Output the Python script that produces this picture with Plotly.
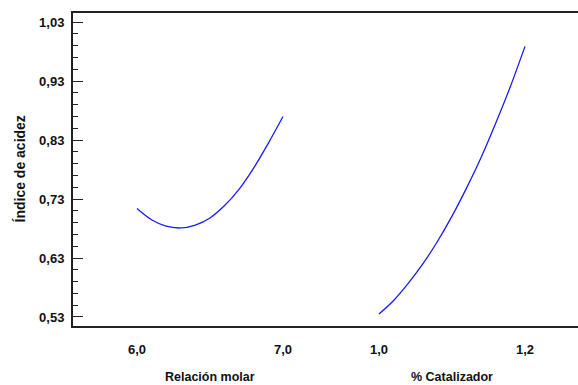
import plotly.graph_objects as go

# Relación molar effect
relacion_x = [6.0, 6.1, 6.2, 6.3, 6.4, 6.5, 6.6, 6.7, 6.8, 6.9, 7.0]
relacion_y = [0.714, 0.695, 0.684, 0.681, 0.686, 0.698, 0.719, 0.747, 0.783, 0.825, 0.870]

# % Catalizador effect
catal_x = [1.00, 1.02, 1.04, 1.06, 1.08, 1.10, 1.12, 1.14, 1.16, 1.18, 1.20]
catal_y = [0.535, 0.558, 0.587, 0.620, 0.658, 0.701, 0.749, 0.801, 0.859, 0.921, 0.989]

y_ticks = [0.53, 0.63, 0.73, 0.83, 0.93, 1.03]
x1_ticks = [6.0, 7.0]
x2_ticks = [1.0, 1.2]

tick_font = dict(family="Liberation Sans, Arial", size=13, color="#111", weight="bold")
title_font = dict(family="Liberation Sans, Arial", size=12.5, color="#111")

fig = go.Figure()
fig.add_trace(go.Scatter(x=relacion_x, y=relacion_y, mode="lines",
                         line=dict(color="#1a1aff", width=1.3, shape="spline"), xaxis="x", yaxis="y",
                         showlegend=False))
fig.add_trace(go.Scatter(x=catal_x, y=catal_y, mode="lines",
                         line=dict(color="#1a1aff", width=1.3, shape="spline"), xaxis="x2", yaxis="y",
                         showlegend=False))

axis_line = dict(showline=True, linecolor="#222", linewidth=2, showgrid=False, zeroline=False)

fig.update_layout(
    width=578, height=385,
    margin=dict(l=73, r=0, t=13, b=59),
    paper_bgcolor="white", plot_bgcolor="white",
    separators=", ",
    xaxis=dict(domain=[0, 0.5], range=[5.562, 7.291], tickvals=x1_ticks, tickformat=".1f",
               ticks="", mirror=True, tickfont=tick_font, ticklabelstandoff=10, **axis_line),
    xaxis2=dict(domain=[0.5, 1], range=[0.9267, 1.2726], tickvals=x2_ticks, tickformat=".1f",
                ticks="", mirror=True, anchor="y", tickfont=tick_font, ticklabelstandoff=10, **axis_line),
    yaxis=dict(range=[0.5147, 1.0456], tickvals=y_ticks, tickformat=".2f",
               ticks="inside", ticklen=10, tickwidth=1.2, tickcolor="#222",
               minor=dict(tick0=0.53, dtick=0.02, ticks="inside", ticklen=5, tickwidth=1.2, tickcolor="#222"),
               tickfont=tick_font, ticklabelstandoff=4, **axis_line),
    annotations=[
        dict(text="<b>Relación molar</b>", xref="x", x=6.5, yref="paper", y=0, yshift=-51,
             showarrow=False, font=title_font, xanchor="center", yanchor="middle"),
        dict(text="<b>% Catalizador</b>", xref="x2", x=1.1, yref="paper", y=0, yshift=-51,
             showarrow=False, font=title_font, xanchor="center", yanchor="middle"),
        dict(text="<b>Índice de acidez</b>", xref="paper", x=0, xshift=-54, yref="paper", y=0.5,
             textangle=-90, showarrow=False, font=dict(family="Liberation Sans, Arial", size=14, color="#111"),
             xanchor="center", yanchor="middle"),
    ],
)

fig.write_html("out.html", config={"displayModeBar": False},
               post_script="document.body.style.margin='0';document.body.style.padding='0';")
